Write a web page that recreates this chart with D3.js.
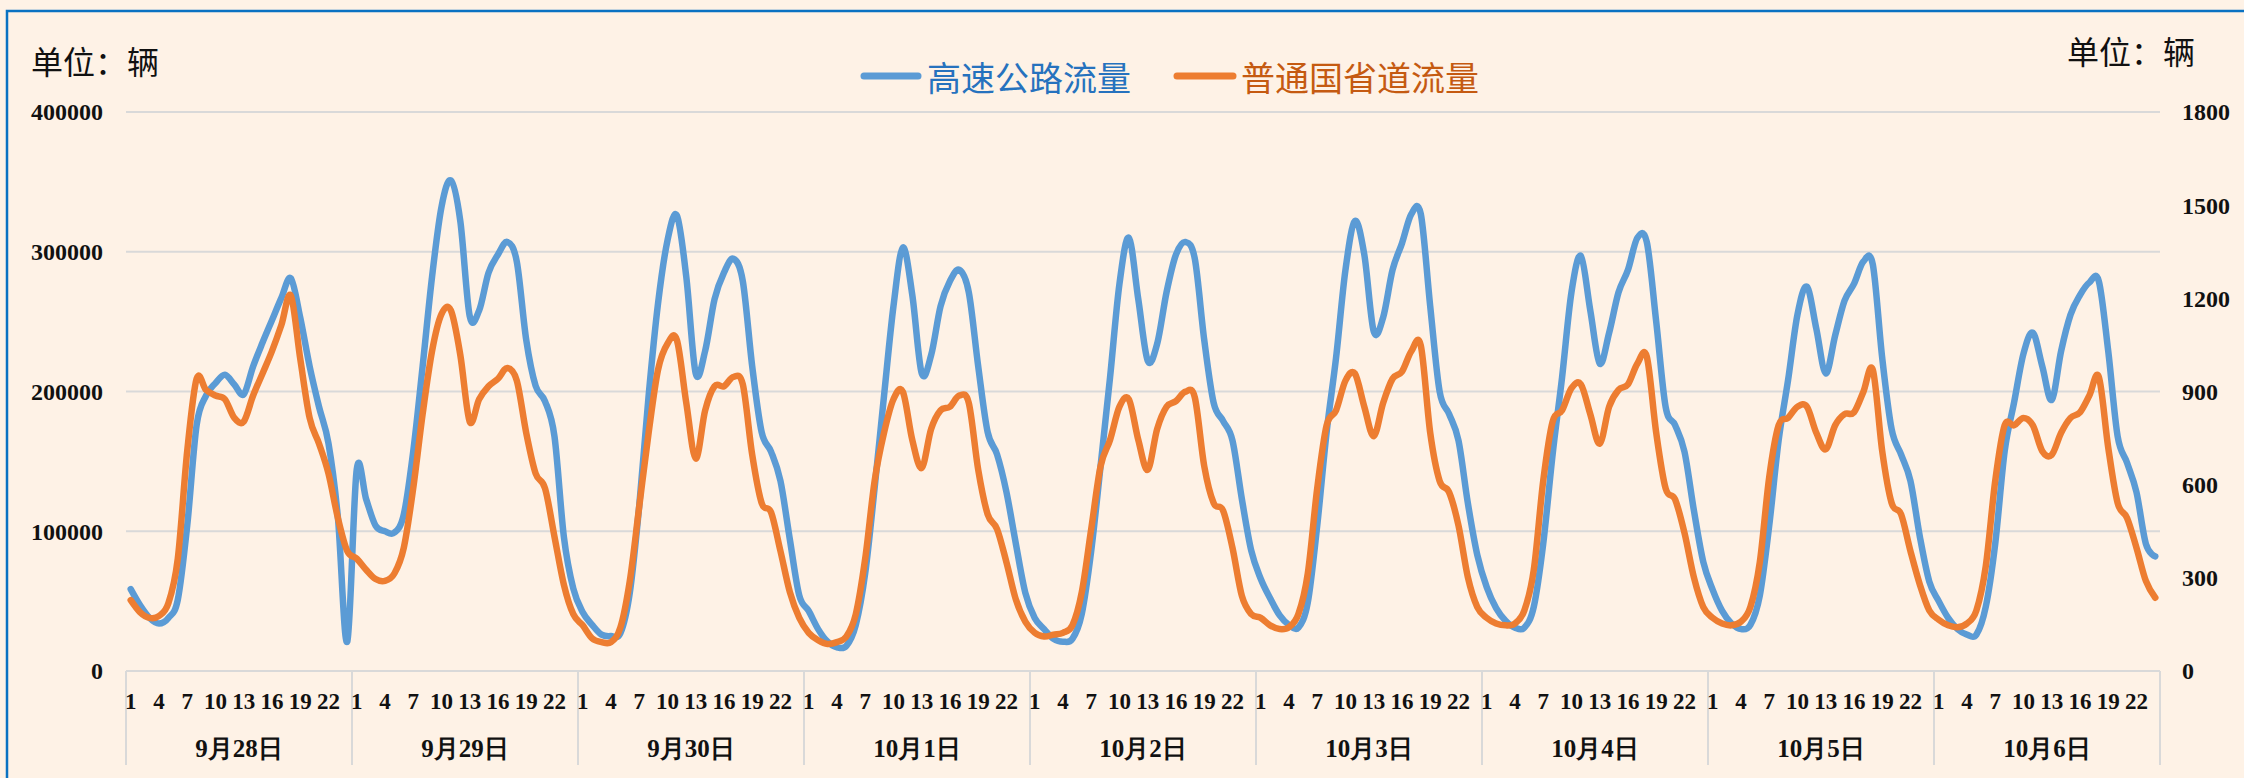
<!DOCTYPE html>
<html>
<head>
<meta charset="utf-8">
<script src="https://cdn.jsdelivr.net/npm/d3@7"></script>
<style>
  html, body { margin: 0; padding: 0; background: #FEF2E6; }
  svg { display: block; }
</style>
</head>
<body>
<svg id="chart" width="2244" height="778"></svg>
<script>
// ---------------- DATA ----------------
const days = ["9月28日","9月29日","9月30日","10月1日","10月2日","10月3日","10月4日","10月5日","10月6日"];
const hours = [1,2,3,4,5,6,7,8,9,10,11,12,13,14,15,16,17,18,19,20,21,22,23,24];
const hourTickLabels = [1,4,7,10,13,16,19,22];
const leftTicks = [0,100000,200000,300000,400000];
const rightTicks = [0,300,600,900,1200,1500,1800];
const seriesNames = ["高速公路流量","普通国省道流量"];

// 高速公路流量 (left axis), 24 hourly values per day
const highway = [
  58600,47000,38000,34000,38000,51000,104000,176000,197000,206000,212000,205000,198000,218000,235000,251000,267000,281000,253000,218000,189000,163000,110000,21000,
  144000,123000,104000,100000,99000,112000,157000,218000,282000,332000,351000,322000,254000,258000,285000,298000,307000,293000,237000,204000,193000,168000,96000,59000,
  42000,33000,26000,25000,27000,56000,118000,197000,263000,308000,326000,282000,213000,229000,266000,285000,295000,279000,218000,171000,157000,136000,94000,54000,
  43000,30000,21000,17000,18000,33000,70000,131000,197000,261000,303000,269000,213000,226000,261000,279000,287000,271000,218000,171000,155000,128000,91000,56000,
  38000,30000,23000,21000,23000,41000,86000,147000,210000,277000,310000,266000,222000,234000,271000,298000,307000,295000,237000,192000,179000,165000,123000,86000,
  66000,52000,40000,33000,31000,49000,104000,171000,224000,287000,322000,298000,243000,253000,287000,306000,327000,327000,261000,200000,184000,165000,120000,83000,
  60000,45000,36000,31000,31000,46000,91000,155000,210000,271000,297000,258000,220000,242000,271000,287000,310000,307000,250000,189000,176000,157000,115000,78000,
  58000,43000,34000,30000,33000,54000,104000,165000,208000,255000,275000,245000,213000,240000,265000,277000,293000,291000,224000,173000,155000,136000,96000,64000,
  50000,38000,30000,26000,26000,46000,91000,157000,192000,227000,242000,218000,194000,229000,255000,269000,278000,279000,229000,168000,149000,128000,91000,82000
];

// 普通国省道流量 (right axis), 24 hourly values per day
const provincial = [
  228,189,171,177,218,362,708,941,905,887,875,815,803,887,958,1030,1114,1209,1006,815,732,636,493,386,
  362,326,296,290,314,397,588,827,1030,1149,1161,1018,803,875,917,941,976,935,767,636,588,433,278,183,
  147,105,93,93,140,290,529,767,970,1054,1066,863,684,839,917,917,947,923,696,541,511,386,254,171,
  123,99,87,93,111,183,362,612,767,875,899,744,654,779,839,851,887,863,648,505,457,350,230,159,
  123,111,117,123,147,254,457,660,744,851,875,744,648,779,851,869,899,881,660,541,517,397,242,183,
  171,147,135,141,183,314,588,791,839,935,958,851,756,863,941,964,1030,1048,767,612,576,469,302,206,
  171,153,147,153,195,326,612,803,839,911,923,827,732,851,905,923,990,1012,767,588,553,445,302,206,
  171,153,147,159,206,350,624,791,815,851,851,767,714,791,827,833,899,970,708,541,505,386,278,195,
  165,147,141,153,195,338,612,791,791,815,791,708,696,767,815,833,887,947,720,541,493,397,290,236
];

// ---------------- CHART ----------------
const W = 2244, H = 778;
const plot = { left: 126, right: 2160, top: 112, bottom: 671 };
const colBlue = "#5B9BD5", colOrange = "#ED7D31";
const gridCol = "#D9D9D9";
const numFont = "'Liberation Serif','Times New Roman',serif";
const cjkFont = "'Noto Sans CJK SC','Noto Sans',sans-serif";

const svg = d3.select("#chart");

// border frame
svg.append("rect")
  .attr("x", 7).attr("y", 11)
  .attr("width", W + 20).attr("height", H + 20)
  .attr("fill", "#FEF2E6")
  .attr("stroke", "#0A72C2").attr("stroke-width", 2.5);

const idx = d3.range(days.length * hours.length);
const x = d3.scaleBand().domain(idx).range([plot.left, plot.right]).padding(0);
const xc = i => x(i) + x.bandwidth() / 2;
const xDay = d3.scaleBand().domain(days).range([plot.left, plot.right]).padding(0);
const yL = d3.scaleLinear().domain([0, 400000]).range([plot.bottom, plot.top]);
const yR = d3.scaleLinear().domain([0, 1800]).range([plot.bottom, plot.top]);

// gridlines
svg.append("g").selectAll("line").data(leftTicks.filter(d => d > 0)).join("line")
  .attr("x1", plot.left).attr("x2", plot.right)
  .attr("y1", d => yL(d)).attr("y2", d => yL(d))
  .attr("stroke", gridCol).attr("stroke-width", 2);

// left axis
const gL = svg.append("g").attr("transform", `translate(${plot.left},0)`)
  .call(d3.axisLeft(yL).tickValues(leftTicks).tickSize(0).tickPadding(23).tickFormat(d3.format("d")));
gL.select(".domain").remove();
gL.selectAll("text").attr("font-family", numFont).attr("font-weight", "bold")
  .attr("font-size", 24).attr("fill", "#111").attr("dy", "0.33em");

// right axis
const gR = svg.append("g").attr("transform", `translate(${plot.right},0)`)
  .call(d3.axisRight(yR).tickValues(rightTicks).tickSize(0).tickPadding(22).tickFormat(d3.format("d")));
gR.select(".domain").remove();
gR.selectAll("text").attr("font-family", numFont).attr("font-weight", "bold")
  .attr("font-size", 24).attr("fill", "#111").attr("dy", "0.33em");

// category axis line + day separators
svg.append("line").attr("x1", plot.left).attr("x2", plot.right)
  .attr("y1", plot.bottom).attr("y2", plot.bottom)
  .attr("stroke", gridCol).attr("stroke-width", 2);
const sepX = days.map(d => xDay(d)).concat([xDay(days[days.length - 1]) + xDay.bandwidth()]);
svg.append("g").selectAll("line").data(sepX).join("line")
  .attr("x1", d => d).attr("x2", d => d)
  .attr("y1", plot.bottom).attr("y2", 765)
  .attr("stroke", gridCol).attr("stroke-width", 2);

// hour labels
const hourTickIdx = idx.filter(i => hourTickLabels.includes(hours[i % 24]));
const gH = svg.append("g").attr("transform", `translate(0,${plot.bottom})`)
  .call(d3.axisBottom(x).tickValues(hourTickIdx).tickSize(0).tickPadding(0).tickFormat(i => hours[i % 24]));
gH.select(".domain").remove();
gH.selectAll("text").attr("font-family", numFont).attr("font-weight", "bold")
  .attr("font-size", 23).attr("fill", "#111").attr("y", 30).attr("dy", "0.35em");

// day labels
const gD = svg.append("g").attr("transform", `translate(0,${plot.bottom})`)
  .call(d3.axisBottom(xDay).tickSize(0).tickPadding(0));
gD.select(".domain").remove();
gD.selectAll("text").attr("font-family", numFont).attr("font-weight", "bold")
  .attr("font-size", 25).attr("fill", "#111").attr("y", 77).attr("dy", "0.35em");

// lines (Excel-style smoothing ~ uniform Catmull-Rom)
const curve = d3.curveCatmullRom.alpha(0);
const lineL = d3.line().x((d, i) => xc(i)).y(d => yL(d)).curve(curve);
const lineR = d3.line().x((d, i) => xc(i)).y(d => yR(d)).curve(curve);
svg.append("path").datum(highway).attr("d", lineL)
  .attr("fill", "none").attr("stroke", colBlue).attr("stroke-width", 6.5)
  .attr("stroke-linejoin", "round").attr("stroke-linecap", "round");
svg.append("path").datum(provincial).attr("d", lineR)
  .attr("fill", "none").attr("stroke", colOrange).attr("stroke-width", 6.5)
  .attr("stroke-linejoin", "round").attr("stroke-linecap", "round");

// unit labels
svg.append("text").attr("x", 31).attr("y", 60).attr("dominant-baseline", "central")
  .attr("font-family", cjkFont).attr("font-size", 32).attr("fill", "#111").text("单位：辆");
svg.append("text").attr("x", 2067).attr("y", 50).attr("dominant-baseline", "central")
  .attr("font-family", cjkFont).attr("font-size", 32).attr("fill", "#111").text("单位：辆");

// legend
const legend = [
  { name: seriesNames[0], line: colBlue, text: "#2672BE", x1: 864, x2: 918, tx: 927 },
  { name: seriesNames[1], line: colOrange, text: "#C55A11", x1: 1177, x2: 1233, tx: 1241 }
];
const gLeg = svg.append("g");
legend.forEach(l => {
  gLeg.append("line").attr("x1", l.x1).attr("x2", l.x2).attr("y1", 76).attr("y2", 76)
    .attr("stroke", l.line).attr("stroke-width", 7).attr("stroke-linecap", "round");
  gLeg.append("text").attr("x", l.tx).attr("y", 76).attr("dominant-baseline", "central")
    .attr("font-family", cjkFont).attr("font-size", 34).attr("fill", l.text).text(l.name);
});
</script>
</body>
</html>
